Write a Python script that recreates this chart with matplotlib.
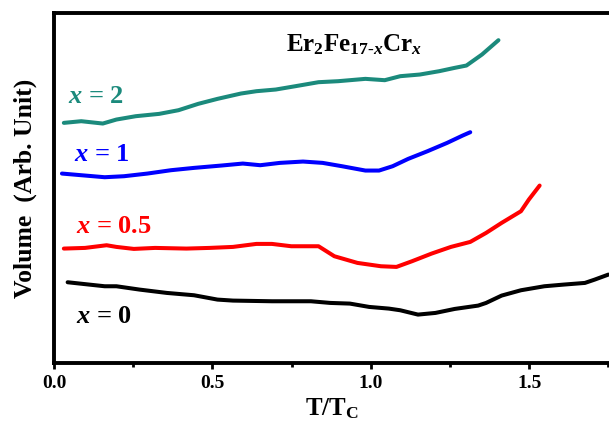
import matplotlib
matplotlib.use("Agg")
import matplotlib.pyplot as plt
from matplotlib.ticker import MultipleLocator

plt.rcParams["font.family"] = "Liberation Serif"
plt.rcParams["font.weight"] = "bold"
plt.rcParams["mathtext.fontset"] = "custom"
plt.rcParams["mathtext.rm"] = "Liberation Serif:bold"
plt.rcParams["mathtext.it"] = "Liberation Serif:italic:bold"
plt.rcParams["mathtext.bf"] = "Liberation Serif:bold"

# T/Tc and relative volume for each Cr content
t_x2 = [0.031, 0.086, 0.154, 0.197, 0.258, 0.332, 0.393, 0.455, 0.516, 0.590, 0.639, 0.700,
        0.762, 0.835, 0.897, 0.983, 1.044, 1.093, 1.155, 1.216, 1.265, 1.302, 1.351, 1.403]
v_x2 = [72.0, 72.5, 71.8, 73.0, 74.0, 74.7, 75.8, 77.7, 79.2, 80.8, 81.5, 82.0,
        83.0, 84.2, 84.5, 85.2, 84.8, 86.0, 86.5, 87.5, 88.5, 89.2, 92.5, 96.8]

t_x1 = [0.025, 0.086, 0.160, 0.221, 0.295, 0.369, 0.442, 0.528, 0.596, 0.651, 0.713, 0.786,
        0.848, 0.909, 0.983, 1.026, 1.069, 1.118, 1.179, 1.241, 1.290, 1.314]
v_x1 = [56.8, 56.3, 55.7, 56.0, 56.8, 57.8, 58.5, 59.2, 59.8, 59.3, 60.0, 60.4,
        60.0, 59.0, 57.7, 57.7, 59.0, 61.2, 63.5, 66.0, 68.2, 69.2]

t_x05 = [0.031, 0.098, 0.166, 0.197, 0.252, 0.319, 0.418, 0.491, 0.565, 0.639, 0.688, 0.749, 0.835,
         0.885, 0.958, 1.032, 1.081, 1.130, 1.192, 1.253, 1.314, 1.364, 1.413, 1.474, 1.499, 1.533]
v_x05 = [34.3, 34.5, 35.3, 34.8, 34.2, 34.5, 34.3, 34.5, 34.8, 35.7, 35.7, 35.0, 35.0,
         32.0, 30.0, 29.0, 28.8, 30.5, 32.8, 34.8, 36.3, 39.0, 42.0, 45.5, 49.0, 53.2]

t_x0 = [0.043, 0.111, 0.160, 0.197, 0.270, 0.356, 0.442, 0.516, 0.565, 0.688, 0.762, 0.811, 0.872,
        0.934, 0.995, 1.057, 1.093, 1.149, 1.204, 1.265, 1.339, 1.364, 1.413, 1.474, 1.548, 1.609,
        1.676, 1.707, 1.750]
v_x0 = [24.2, 23.5, 23.0, 23.0, 22.0, 21.0, 20.3, 19.0, 18.7, 18.5, 18.5, 18.5, 18.0,
        17.8, 16.8, 16.3, 15.8, 14.5, 15.0, 16.2, 17.2, 18.0, 20.2, 21.8, 23.0, 23.5,
        24.0, 25.0, 26.5]

series = [
    (t_x2, v_x2, "#1b8a7c", r"$x$ = 2", 0.043, 80.0),
    (t_x1, v_x1, "#0000ff", r"$x$ = 1", 0.064, 62.5),
    (t_x05, v_x05, "#ff0000", r"$x$ = 0.5", 0.068, 41.0),
    (t_x0, v_x0, "#000000", r"$x$ = 0", 0.068, 14.0),
]

fig = plt.figure(figsize=(6.09, 4.28), dpi=100)
ax = fig.add_axes([0.0887, 0.152, 0.9113, 0.818])

for t, v, colour, label, lx, ly in series:
    ax.plot(t, v, color=colour, linewidth=2.9, solid_capstyle="round")
    ax.text(lx, ly, label, color=colour, fontsize=19, fontweight="bold",
            ha="left", va="center")

ax.text(0.946, 95.5, r"$\mathrm{Er}_2\mathrm{Fe}_{17\text{-}x}\mathrm{Cr}_x$",
        fontsize=18, ha="center", va="center")

ax.set_xlim(0, 1.752)
ax.set_ylim(0, 105)
ax.xaxis.set_major_locator(MultipleLocator(0.5))
ax.xaxis.set_minor_locator(MultipleLocator(0.25))
ax.set_yticks([])
ax.tick_params(axis="x", which="major", direction="out", length=4, width=2,
               labelsize=14, pad=5)
ax.tick_params(axis="x", which="minor", direction="out", length=3, width=2)
for label in ax.get_xticklabels():
    label.set_fontweight("bold")

for side in ["left", "top", "bottom"]:
    ax.spines[side].set_linewidth(2.8)
ax.spines["right"].set_visible(False)

ax.set_xlabel(r"T/T$_\mathrm{C}$", fontsize=18, fontweight="bold", labelpad=3)
ax.set_ylabel("Volume  (Arb. Unit)", fontsize=18.5, fontweight="bold", labelpad=12)

fig.savefig("out.png", dpi=100)
